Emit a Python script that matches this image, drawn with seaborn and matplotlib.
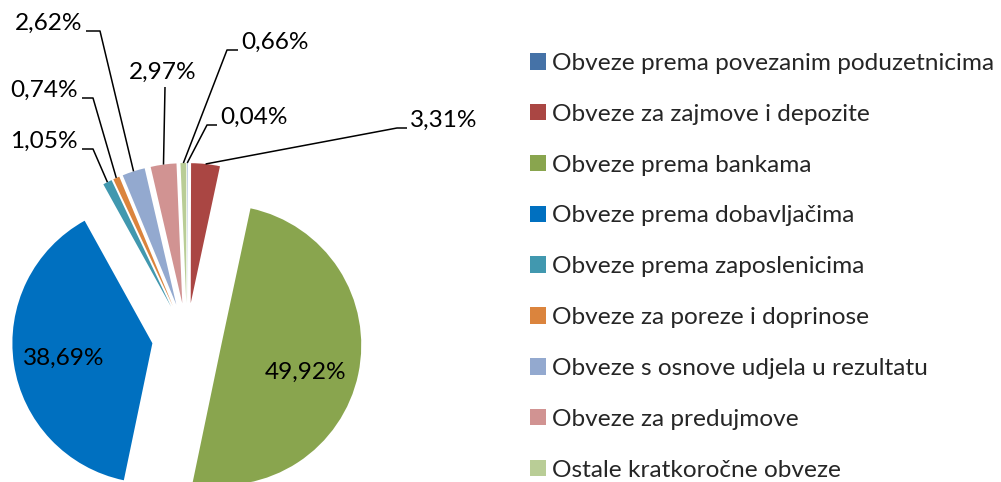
import numpy as np
import matplotlib
matplotlib.use("Agg")
import matplotlib.pyplot as plt
import seaborn as sns

# struktura kratkoročnih obveza (%)
categories = [
    "Obveze prema povezanim poduzetnicima",
    "Obveze za zajmove i depozite",
    "Obveze prema bankama",
    "Obveze prema dobavljačima",
    "Obveze prema zaposlenicima",
    "Obveze za poreze i doprinose",
    "Obveze s osnove udjela u rezultatu",
    "Obveze za predujmove",
    "Ostale kratkoročne obveze",
]
shares = [0.04, 3.31, 49.92, 38.69, 1.05, 0.74, 2.62, 2.97, 0.66]
colors = ["#4572A7", "#AA4643", "#89A54E", "#0070C0", "#4198AF",
          "#DB843D", "#93A9CF", "#D19392", "#B9CD96"]

W, H = 1001, 482
CX, CY, R = 187, H - 338, 140
EXPLODE = 35          # pomak isječaka u pikselima
FS = 17.6

# položaji oznaka u pikselima slike (y prema dolje)
inside_labels = {2: (306, 372), 3: (64, 358)}
# indeks: (lakat, kraj vodoravne crte ili None, poravnanje, točka teksta)
outside_labels = {
    0: ((207, 125), (217, 125), "left", (220, 124)),
    1: ((397, 128), (407, 128), "left", (410, 127)),
    4: ((93, 149), (82, 149), "right", (78, 148)),
    5: ((93, 98), (82, 98), "right", (78, 97)),
    6: ((100, 31), (86, 31), "right", (82, 30)),
    7: ((165, 87), None, "center", (163, 79)),
    8: ((227, 50), (238, 50), "left", (241, 49)),
}


def fmt(v):
    return f"{v:.2f}".replace(".", ",") + "%"


sns.set_theme(style="white")
plt.rcParams["font.family"] = ["Lato", "DejaVu Sans"]

fig = plt.figure(figsize=(W / 100, H / 100), dpi=100)
ax = fig.add_axes([0, 0, 1, 1])

wedges, _ = ax.pie(
    shares, colors=colors, startangle=90, counterclock=False,
    explode=[EXPLODE] * len(shares), radius=R, center=(CX, CY),
    wedgeprops=dict(linewidth=0),
)
ax.set_xlim(0, W)
ax.set_ylim(0, H)
ax.set_aspect("equal")
ax.axis("off")

for i, (x, y) in inside_labels.items():
    ax.text(x, H - y, fmt(shares[i]), ha="center", va="center",
            fontsize=FS, color="black")

for i, (elbow, end, ha, tpos) in outside_labels.items():
    w = wedges[i]
    ang = np.deg2rad((w.theta1 + w.theta2) / 2)
    sx = w.center[0] + w.r * np.cos(ang)
    sy = w.center[1] + w.r * np.sin(ang)
    xs = [sx, elbow[0]]
    ys = [sy, H - elbow[1]]
    if end is not None:
        xs.append(end[0])
        ys.append(H - end[1])
    ax.plot(xs, ys, color="black", lw=1.1, solid_capstyle="butt")
    ax.text(tpos[0], H - tpos[1], fmt(shares[i]), ha=ha, va="baseline",
            fontsize=FS, color="black")

ax.legend(
    wedges, categories, loc="upper left",
    bbox_to_anchor=(530 / W, 1 - 53 / H), frameon=False, fontsize=FS,
    handlelength=0.66, handleheight=0.66, handletextpad=0.25,
    labelspacing=1.22, borderpad=0, borderaxespad=0,
)

fig.savefig("out.png", dpi=100)
